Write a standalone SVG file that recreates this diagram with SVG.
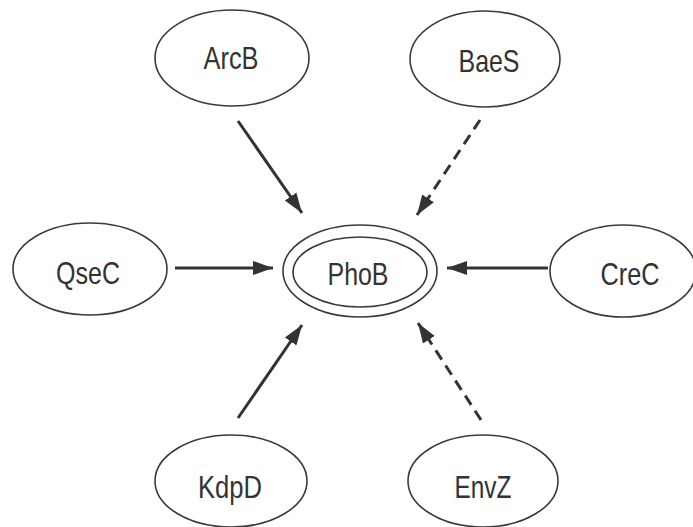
<svg xmlns="http://www.w3.org/2000/svg" width="693" height="527" viewBox="0 0 693 527">
<style>
.node ellipse{fill:none;stroke:#3a3a3a;stroke-width:1.6}
.node text{font-family:"Liberation Sans",Arial,sans-serif;font-size:32px;fill:#333;text-anchor:middle}
.edge{stroke:#333;stroke-width:3;fill:none;marker-end:url(#ah)}
.dash{stroke-dasharray:11 7}
</style>
<defs>
<marker id="ah" markerUnits="userSpaceOnUse" markerWidth="22" markerHeight="16" refX="20" refY="8" orient="auto">
<path d="M0,1 L20,8 L0,15 Z" fill="#333"/>
</marker>
</defs>
<rect width="693" height="527" fill="#fff"/>
<g id="connectors">
<line class="edge" x1="238" y1="121" x2="302" y2="213"/>
<line class="edge dash" x1="480" y1="120" x2="417" y2="215"/>
<line class="edge" x1="175" y1="268" x2="273" y2="268"/>
<line class="edge" x1="548" y1="268" x2="447" y2="268"/>
<line class="edge" x1="238" y1="418" x2="302" y2="325"/>
<line class="edge dash" x1="481" y1="420" x2="418" y2="323"/>
</g>
<g id="ArcB" class="node"><ellipse cx="232" cy="58" rx="77" ry="48"/><text x="231" y="69" textLength="55" lengthAdjust="spacingAndGlyphs">ArcB</text></g>
<g id="BaeS" class="node"><ellipse cx="485" cy="59" rx="75" ry="48"/><text x="489" y="72" textLength="61" lengthAdjust="spacingAndGlyphs">BaeS</text></g>
<g id="QseC" class="node"><ellipse cx="90" cy="269" rx="77" ry="46"/><text x="88" y="284" textLength="64" lengthAdjust="spacingAndGlyphs">QseC</text></g>
<g id="PhoB" class="node"><ellipse cx="360" cy="271" rx="77" ry="46"/><ellipse cx="360" cy="272" rx="67" ry="35"/><text x="358" y="285" textLength="61" lengthAdjust="spacingAndGlyphs">PhoB</text></g>
<g id="CreC" class="node"><ellipse cx="623" cy="271" rx="73" ry="46"/><text x="630" y="285" textLength="59" lengthAdjust="spacingAndGlyphs">CreC</text></g>
<g id="KdpD" class="node"><ellipse cx="231" cy="481" rx="76" ry="46"/><text x="230" y="498" textLength="64" lengthAdjust="spacingAndGlyphs">KdpD</text></g>
<g id="EnvZ" class="node"><ellipse cx="483" cy="481" rx="75" ry="46"/><text x="483" y="498" textLength="57" lengthAdjust="spacingAndGlyphs">EnvZ</text></g>
</svg>
